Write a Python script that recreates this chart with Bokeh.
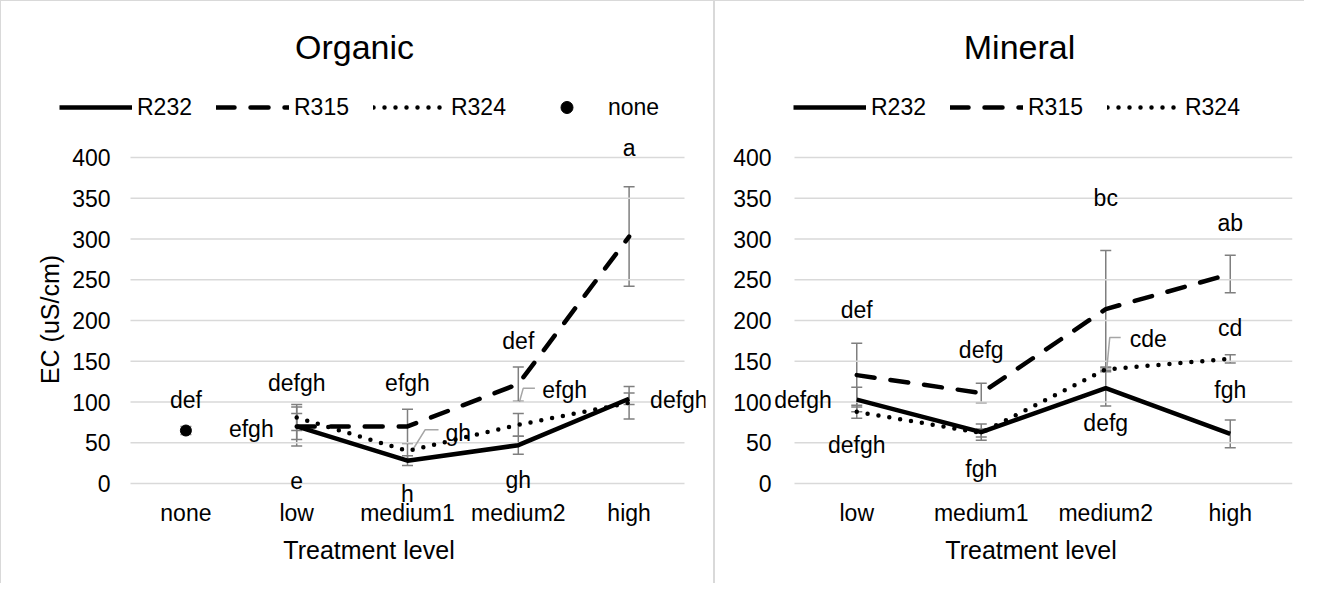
import math
from bokeh.plotting import figure
from bokeh.models import (Range1d, FixedTicker, ColumnDataSource, Whisker, TeeHead,
                          Legend, LegendItem, LabelSet, Label, Title)
from bokeh.layouts import row
from bokeh.embed import file_html
from bokeh.resources import INLINE
from bokeh.core.properties import value

FONT = "Liberation Sans"

# ---------------- data ----------------
ORG_LEVELS = ["none", "low", "medium1", "medium2", "high"]
MIN_LEVELS = ["low", "medium1", "medium2", "high"]
SERIES_LEVELS = ["low", "medium1", "medium2", "high"]
Y_TICKS = [0, 50, 100, 150, 200, 250, 300, 350, 400]

org_none_level = ["none"]
org_none = [65]
org_none_err = [5]

org_r232 = [70, 28, 47, 104]
org_r232_err = [24, 6, 11, 7]
org_r315 = [70, 70, 122, 303]
org_r315_err = [16, 21, 21, 61]
org_r324 = [81, 40, 72, 99]
org_r324_err = [16, 10, 14, 20]

min_r232 = [103, 63, 117, 61]
min_r232_err = [15, 10, 22, 17]
min_r315 = [133, 111, 214, 257]
min_r315_err = [39, 12, 72, 23]
min_r324 = [88, 62, 140, 153]
min_r324_err = [8, 5, 3, 5]

# significance letters: text, category, label height (data units), pixel shift, alignment
org_lab_text = ["def", "defgh", "efgh", "e", "efgh", "h", "gh", "def", "efgh", "gh", "a", "defgh"]
org_lab_cat = ["none", "low", "low", "low", "medium1", "medium1", "medium1", "medium2", "medium2", "medium2", "high", "high"]
org_lab_y = [103, 123, 67, 4, 123, -13, 62, 175, 115, 4, 412, 102]
org_lab_dx = [0, 0, -23, 0, 0, 0, 38, 0, 24, 0, 0, 21]
org_lab_align = ["center", "center", "right", "center", "center", "center", "left", "center", "left", "center", "center", "left"]

min_lab_text = ["def", "defgh", "defgh", "defg", "fgh", "bc", "cde", "defg", "ab", "cd", "fgh"]
min_lab_cat = ["low", "low", "low", "medium1", "medium1", "medium2", "medium2", "medium2", "high", "high", "high"]
min_lab_y = [213, 102, 47, 164, 18, 350, 177, 74, 320, 191, 115]
min_lab_dx = [0, -25, 0, 0, 0, 0, 24, 0, 0, 0, 0]
min_lab_align = ["center", "right", "center", "center", "center", "center", "left", "center", "center", "center", "center"]

# leader lines: (category, [fraction of category width offsets], [values])
org_leaders = [("medium1", [0.05, 0.16, 0.28], [42, 66, 66]),
               ("medium2", [0.01, 0.045, 0.15], [100, 117, 117])]
min_leaders = [("medium2", [0.008, 0.032, 0.12], [140, 179, 179])]

ERR_COLOR = "#7f7f7f"
GRID_COLOR = "#d9d9d9"
LEADER_COLOR = "#a6a6a6"

# ---------------- layout constants (page pixels) ----------------
FIG_H = 583
FRAME_TOP = 20      # page y of frame top
FRAME_BOT = 512     # page y of frame bottom
Y0_PX = 491         # page y of value 0
PX_PER_UNIT = 0.815
Y_LO = -(FRAME_BOT - Y0_PX) / PX_PER_UNIT
Y_HI = (Y0_PX - FRAME_TOP) / PX_PER_UNIT


def make_panel(title, levels, r232, r232e, r315, r315e, r324, r324e,
               lab_text, lab_cat, lab_y, lab_dx, lab_align, leaders,
               ylabel, fig_x, fig_w, frame_l, frame_r, cat_l, cat_w, y_std,
               title_px, legend_px, xlab_off, with_none, border_css):
    pos = {c: i + 0.5 for i, c in enumerate(levels)}
    x_lo = -(cat_l - frame_l) / cat_w
    x_hi = x_lo + (frame_r - frame_l) / cat_w

    def dx(px):
        return x_lo + (px - frame_l) / cat_w

    def dy(py):
        return (Y0_PX - py) / PX_PER_UNIT

    fw = frame_r - frame_l
    fh = FRAME_BOT - FRAME_TOP
    mbl = frame_l - fig_x
    mbr = fig_w - mbl - fw
    mbt = FRAME_TOP - 8
    mbb = FIG_H - mbt - fh
    p = figure(x_range=Range1d(x_lo, x_hi), y_range=Range1d(Y_LO, Y_HI),
               frame_width=fw, frame_height=fh,
               min_border_left=mbl, min_border_right=mbr,
               min_border_top=mbt, min_border_bottom=mbb,
               output_backend="svg", toolbar_location=None, title=None,
               border_fill_color=None, background_fill_color=None,
               outline_line_color=None)
    p.styles = {"box-shadow": border_css, "background-color": "white"}

    # axes
    p.xgrid.visible = False
    p.ygrid.visible = False
    xa, ya = p.xaxis[0], p.yaxis[0]
    for ax in (xa, ya):
        ax.axis_line_color = None
        ax.major_tick_line_color = None
        ax.minor_tick_line_color = None
        ax.major_tick_out = 0
        ax.major_tick_in = 0
        ax.major_label_text_font = FONT
        ax.major_label_text_font_size = "23px"
        ax.major_label_text_color = "black"
    xa.ticker = FixedTicker(ticks=[pos[c] for c in levels])
    xa.major_label_overrides = {pos[c]: c for c in levels}
    xa.major_label_standoff = -5
    ya.ticker = FixedTicker(ticks=Y_TICKS)
    ya.major_label_standoff = y_std

    # horizontal gridlines across the category area
    n = len(Y_TICKS)
    p.segment(x0=[0] * n, x1=[len(levels)] * n, y0=Y_TICKS, y1=Y_TICKS,
              line_color=GRID_COLOR, line_width=1.5)

    for (cat, fr, ys) in leaders:
        p.line(x=[pos[cat] + f for f in fr], y=ys, line_color=LEADER_COLOR, line_width=1.5)

    sx = [pos[c] for c in SERIES_LEVELS]

    def add_err(xs, means, errs):
        src = ColumnDataSource(dict(base=xs,
                                    lower=[m - e for m, e in zip(means, errs)],
                                    upper=[m + e for m, e in zip(means, errs)]))
        w = Whisker(base="base", lower="lower", upper="upper", source=src,
                    line_color=ERR_COLOR, line_width=1.5, level="underlay",
                    upper_head=TeeHead(size=11, line_color=ERR_COLOR, line_width=1.5),
                    lower_head=TeeHead(size=11, line_color=ERR_COLOR, line_width=1.5))
        p.add_layout(w)

    add_err(sx, r232, r232e)
    add_err(sx, r315, r315e)
    add_err(sx, r324, r324e)

    l1 = p.line(x=sx, y=r232, line_color="black", line_width=4.5, line_join="round")
    l2 = p.line(x=sx, y=r315, line_color="black", line_width=4.5,
                line_dash="18 16", line_cap="round", line_join="round")
    l3 = p.line(x=sx, y=r324, line_color="black", line_width=4.5,
                line_dash="0 11", line_cap="round", line_join="round")
    items = [LegendItem(label="R232", renderers=[l1]),
             LegendItem(label="R315", renderers=[l2]),
             LegendItem(label="R324", renderers=[l3])]
    if with_none:
        nx = [pos[c] for c in org_none_level]
        add_err(nx, org_none, org_none_err)
        s = p.scatter(x=nx, y=org_none, size=11, marker="circle", color="black")
        items.append(LegendItem(label="none", renderers=[s]))

    for align in ("center", "left", "right"):
        idx = [i for i, a in enumerate(lab_align) if a == align]
        if not idx:
            continue
        src = ColumnDataSource(dict(x=[pos[lab_cat[i]] for i in idx],
                                    y=[lab_y[i] for i in idx],
                                    t=[lab_text[i] for i in idx],
                                    dx=[lab_dx[i] for i in idx]))
        p.add_layout(LabelSet(x="x", y="y", text="t", x_offset="dx", source=src,
                              text_align=align, text_baseline="middle",
                              text_font=value(FONT), text_font_size="23px",
                              text_color="black"))

    # chart title
    p.add_layout(Label(x=dx(title_px[0]), y=dy(title_px[1]), text=title,
                       text_align="center", text_baseline="middle",
                       text_font=FONT, text_font_size="34px", text_color="black"))

    # legend (screen offsets from the frame's bottom-left corner)
    leg = Legend(items=items, orientation="horizontal",
                 location=(legend_px[0] - frame_l, FRAME_BOT - legend_px[1] - 15),
                 glyph_width=73, glyph_height=30, label_standoff=5, spacing=24,
                 padding=0, margin=0, border_line_color=None,
                 background_fill_alpha=0, label_text_font=FONT,
                 label_text_font_size="23px", label_text_color="black")
    p.add_layout(leg)

    # axis titles
    p.add_layout(Title(text="Treatment level", align="center", offset=xlab_off,
                       standoff=10, text_font=FONT, text_font_size="25px",
                       text_font_style="normal", text_color="black"), "below")
    if ylabel:
        p.add_layout(Label(x=dx(57), y=dy(327), text=ylabel, angle=math.pi / 2,
                           text_align="center", text_baseline="middle",
                           text_font=FONT, text_font_size="25px", text_color="black"))
    return p


LEFT_BORDER = "inset 1px 1px 0 0 #d9d9d9, inset -1px 0 0 0 #d9d9d9"
RIGHT_BORDER = "inset 1px 1px 0 0 #d9d9d9"

p1 = make_panel("Organic", ORG_LEVELS, org_r232, org_r232_err, org_r315, org_r315_err,
                org_r324, org_r324_err, org_lab_text, org_lab_cat, org_lab_y, org_lab_dx,
                org_lab_align, org_leaders, "EC (uS/cm)",
                8, 714, 40, 713, 138, 110.8, -78, (362, 54), (67, 115), 38.5, True,
                LEFT_BORDER)
p2 = make_panel("Mineral", MIN_LEVELS, min_r232, min_r232_err, min_r315, min_r315_err,
                min_r324, min_r324_err, min_lab_text, min_lab_cat, min_lab_y, min_lab_dx,
                min_lab_align, min_leaders, None,
                722, 590, 777, 1300, 802, 124.5, -2, (1027, 54), (801, 115), 12.5, False,
                RIGHT_BORDER)

layout = row(p1, p2)
open("out.html", "w").write(file_html(layout, INLINE))
